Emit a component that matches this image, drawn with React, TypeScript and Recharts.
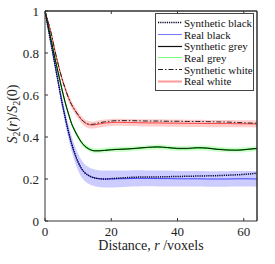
import React from 'react';
import { ComposedChart, Area, Line, XAxis, YAxis, ReferenceLine } from 'recharts';

const distance = [0, 1, 2, 3, 4, 5, 6, 7, 8, 9, 10, 11, 12, 13, 14, 15, 16, 18, 20, 22, 25, 28, 31, 34, 37, 40, 43, 46, 49, 52, 55, 58, 61, 64];

const realBlack = [1, 0.915, 0.83, 0.745, 0.66, 0.575, 0.5, 0.43, 0.37, 0.32, 0.28, 0.25, 0.23, 0.218, 0.21, 0.205, 0.202, 0.2, 0.2, 0.201, 0.202, 0.203, 0.203, 0.202, 0.202, 0.201, 0.201, 0.201, 0.2, 0.2, 0.2, 0.201, 0.201, 0.2];
const synthBlack = [1, 0.915, 0.83, 0.745, 0.66, 0.575, 0.5, 0.43, 0.37, 0.32, 0.28, 0.25, 0.23, 0.218, 0.21, 0.205, 0.202, 0.2, 0.202, 0.204, 0.207, 0.209, 0.21, 0.21, 0.211, 0.212, 0.213, 0.214, 0.215, 0.216, 0.218, 0.22, 0.223, 0.228];
const blackSpread = [0, 0.005, 0.01, 0.015, 0.02, 0.025, 0.03, 0.033, 0.036, 0.038, 0.04, 0.04, 0.04, 0.04, 0.04, 0.04, 0.04, 0.04, 0.04, 0.04, 0.039, 0.039, 0.038, 0.038, 0.038, 0.037, 0.037, 0.037, 0.037, 0.037, 0.037, 0.037, 0.037, 0.037];

const realGrey = [1, 0.925, 0.85, 0.775, 0.705, 0.635, 0.57, 0.515, 0.465, 0.43, 0.4, 0.375, 0.357, 0.345, 0.338, 0.335, 0.335, 0.337, 0.34, 0.341, 0.343, 0.346, 0.35, 0.352, 0.349, 0.345, 0.345, 0.348, 0.347, 0.342, 0.339, 0.338, 0.341, 0.345];
const synthGrey = [1, 0.925, 0.85, 0.775, 0.705, 0.635, 0.57, 0.515, 0.465, 0.43, 0.4, 0.375, 0.357, 0.345, 0.337, 0.334, 0.334, 0.336, 0.339, 0.341, 0.343, 0.347, 0.351, 0.353, 0.35, 0.346, 0.346, 0.349, 0.347, 0.341, 0.338, 0.337, 0.341, 0.346];
const greySpread = [0, 0.003, 0.005, 0.007, 0.009, 0.01, 0.011, 0.012, 0.012, 0.012, 0.012, 0.012, 0.012, 0.012, 0.012, 0.012, 0.012, 0.012, 0.012, 0.012, 0.012, 0.012, 0.012, 0.012, 0.012, 0.012, 0.012, 0.012, 0.012, 0.012, 0.012, 0.012, 0.012, 0.012];

const realWhite = [1, 0.945, 0.885, 0.81, 0.745, 0.685, 0.635, 0.59, 0.555, 0.528, 0.505, 0.482, 0.468, 0.46, 0.457, 0.458, 0.461, 0.466, 0.469, 0.47, 0.469, 0.468, 0.467, 0.467, 0.466, 0.466, 0.465, 0.465, 0.464, 0.464, 0.464, 0.463, 0.463, 0.462];
const synthWhite = [1, 0.945, 0.885, 0.81, 0.745, 0.685, 0.635, 0.59, 0.555, 0.528, 0.505, 0.484, 0.47, 0.462, 0.46, 0.462, 0.466, 0.472, 0.476, 0.478, 0.478, 0.477, 0.476, 0.476, 0.475, 0.475, 0.474, 0.474, 0.473, 0.472, 0.471, 0.469, 0.467, 0.465];
const whiteSpread = [0, 0.004, 0.007, 0.01, 0.012, 0.014, 0.015, 0.016, 0.017, 0.017, 0.017, 0.017, 0.017, 0.017, 0.017, 0.017, 0.017, 0.017, 0.017, 0.017, 0.017, 0.017, 0.017, 0.017, 0.017, 0.017, 0.017, 0.017, 0.017, 0.017, 0.017, 0.017, 0.017, 0.017];

const xTicks = [0, 20, 40, 60];
const yTicks = [0, 0.2, 0.4, 0.6, 0.8, 1];

const legendItems = [
  { name: 'Synthetic black', color: '#000022', dash: '1.2 1', width: 1.5 },
  { name: 'Real black', color: '#7777ff', dash: undefined, width: 1 },
  { name: 'Synthetic grey', color: '#111111', dash: undefined, width: 1.2 },
  { name: 'Real grey', color: '#77ff77', dash: undefined, width: 1 },
  { name: 'Synthetic white', color: '#222222', dash: '5 2 1.5 2', width: 1.2 },
  { name: 'Real white', color: '#ff9999', dash: undefined, width: 2 },
];

const data = distance.map((r, i) => ({
  r,
  realBlack: realBlack[i],
  synthBlack: synthBlack[i],
  blackBand: [realBlack[i] - blackSpread[i], realBlack[i] + blackSpread[i]],
  realGrey: realGrey[i],
  synthGrey: synthGrey[i],
  greyBand: [realGrey[i] - greySpread[i], realGrey[i] + greySpread[i]],
  realWhite: realWhite[i],
  synthWhite: synthWhite[i],
  whiteBand: [realWhite[i] - whiteSpread[i], realWhite[i] + whiteSpread[i]],
}));

const font = 'Liberation Serif';

// legend box drawn as an overlay so it doesn't eat plot space
const LegendBox = () => (
  <div style={{ position: 'absolute', left: 155, top: 13, width: 93, border: '1px solid #444', background: '#fff', padding: '3px 2px', fontFamily: font, fontSize: 11, color: '#111', lineHeight: '12px' }}>
    {legendItems.map((it) => (
      <div key={it.name} style={{ display: 'flex', alignItems: 'center', whiteSpace: 'nowrap', height: 11.7 }}>
        <svg width={25} height={11} style={{ marginRight: 1, flexShrink: 0, display: 'block' }}>
          <line x1={0} y1={5.5} x2={24} y2={5.5} stroke={it.color} strokeWidth={it.width} strokeDasharray={it.dash} />
        </svg>
        <span>{it.name}</span>
      </div>
    ))}
  </div>
);

const YLabel = () => (
  <text transform="translate(17,114) rotate(-90)" textAnchor="middle" fontFamily={font} fontSize={14} fill="#222">
    <tspan fontStyle="italic">S</tspan>
    <tspan fontSize={10} dy={3}>2</tspan>
    <tspan dy={-3}>(</tspan>
    <tspan fontStyle="italic">r</tspan>
    <tspan>)/</tspan>
    <tspan fontStyle="italic">S</tspan>
    <tspan fontSize={10} dy={3}>2</tspan>
    <tspan dy={-3}>(0)</tspan>
  </text>
);

const XLabel = () => (
  <text x={151} y={250} textAnchor="middle" fontFamily={font} fontSize={14} fill="#222">
    <tspan>Distance, </tspan>
    <tspan fontStyle="italic">r</tspan>
    <tspan> /voxels</tspan>
  </text>
);

const tickStyle = { fill: '#222', fontSize: 13, fontFamily: font };
const NoLabel = () => <g />;

export default function App() {
  return (
    <div style={{ position: 'fixed', left: 0, top: 0, width: 275, height: 264, background: '#fff', fontFamily: font }}>
      <ComposedChart width={275} height={264} data={data} margin={{ top: 10, right: 17, bottom: 0, left: 15 }}>
        <XAxis
          dataKey="r"
          type="number"
          domain={[0, 64]}
          ticks={xTicks}
          allowDataOverflow
          height={43}
          stroke="#333"
          tickSize={-3}
          tickMargin={9}
          tick={tickStyle}
        />
        <XAxis
          xAxisId="top"
          dataKey="r"
          type="number"
          orientation="top"
          domain={[0, 64]}
          ticks={xTicks}
          height={1}
          stroke="#333"
          tickSize={-3}
          tick={NoLabel}
        />
        <YAxis
          type="number"
          domain={[0, 1]}
          ticks={yTicks}
          width={30}
          stroke="#333"
          tickSize={-3}
          tickMargin={9}
          tick={tickStyle}
        />
        <YAxis
          yAxisId="right"
          type="number"
          orientation="right"
          domain={[0, 1]}
          ticks={yTicks}
          width={1}
          stroke="#333"
          tickSize={-3}
          tick={NoLabel}
        />
        <Area type="monotone" dataKey="blackBand" stroke="none" fill="#0000ff" fillOpacity={0.2} isAnimationActive={false} />
        <Area type="monotone" dataKey="greyBand" stroke="none" fill="#00ff00" fillOpacity={0.2} isAnimationActive={false} />
        <Area type="monotone" dataKey="whiteBand" stroke="none" fill="#ff0000" fillOpacity={0.2} isAnimationActive={false} />
        <Line type="monotone" dataKey="realBlack" stroke="#4444ff" strokeWidth={1} dot={false} isAnimationActive={false} />
        <Line type="monotone" dataKey="realGrey" stroke="#00dd00" strokeWidth={1.2} dot={false} isAnimationActive={false} />
        <Line type="monotone" dataKey="realWhite" stroke="#ff4444" strokeWidth={1} dot={false} isAnimationActive={false} />
        <Line type="monotone" dataKey="synthBlack" stroke="#000033" strokeWidth={1.5} strokeDasharray="1.2 1" dot={false} isAnimationActive={false} />
        <Line type="monotone" dataKey="synthGrey" stroke="#111111" strokeWidth={1} dot={false} isAnimationActive={false} />
        <Line type="monotone" dataKey="synthWhite" stroke="#222222" strokeWidth={1} strokeDasharray="5 2 1.5 2" dot={false} isAnimationActive={false} />
        <ReferenceLine y={1} stroke="#333" />
        <ReferenceLine x={64} stroke="#333" />
        <YLabel />
        <XLabel />
      </ComposedChart>
      <LegendBox />
    </div>
  );
}
